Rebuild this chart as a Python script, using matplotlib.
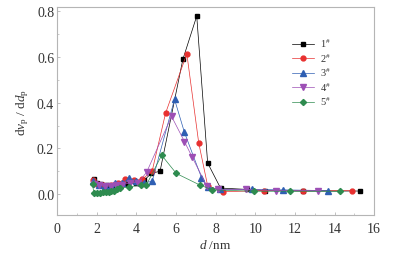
import matplotlib
matplotlib.use("Agg")
import matplotlib.pyplot as plt
from matplotlib.ticker import MultipleLocator

plt.rcParams['font.family'] = ['Liberation Serif', 'DejaVu Serif']
plt.rcParams['mathtext.fontset'] = 'custom'
plt.rcParams['mathtext.rm'] = 'Liberation Serif'
plt.rcParams['mathtext.it'] = 'Liberation Serif:italic'

# sample 1#
x1 = [1.85, 2.0, 2.2, 2.5, 2.8, 3.1, 3.55, 4.0, 4.4, 4.75, 5.2, 6.35, 7.05, 7.6, 8.25, 9.6, 10.5, 12.4, 15.3]
y1 = [0.065, 0.05, 0.045, 0.04, 0.035, 0.035, 0.044, 0.046, 0.06, 0.09, 0.10, 0.59, 0.78, 0.136, 0.026, 0.02, 0.015, 0.013, 0.013]
# sample 2#
x2 = [1.8, 2.0, 2.3, 2.7, 3.1, 3.45, 3.9, 4.3, 4.8, 5.48, 6.55, 7.15, 7.6, 8.4, 10.45, 12.4, 14.9]
y2 = [0.06, 0.045, 0.04, 0.04, 0.05, 0.066, 0.06, 0.065, 0.10, 0.355, 0.615, 0.224, 0.036, 0.01, 0.015, 0.015, 0.015]
# sample 3#
x3 = [1.8, 2.1, 2.4, 2.7, 2.95, 3.3, 3.65, 4.0, 4.4, 4.8, 5.93, 6.43, 7.29, 7.6, 8.2, 9.85, 11.4, 13.65]
y3 = [0.055, 0.04, 0.035, 0.035, 0.05, 0.05, 0.068, 0.058, 0.05, 0.055, 0.415, 0.27, 0.072, 0.03, 0.02, 0.02, 0.018, 0.015]
# sample 4#
x4 = [1.85, 2.1, 2.4, 2.7, 3.0, 3.3, 3.7, 4.1, 4.52, 5.78, 6.43, 6.83, 7.55, 8.1, 9.55, 11.05, 13.15]
y4 = [0.045, 0.04, 0.035, 0.035, 0.04, 0.04, 0.05, 0.05, 0.095, 0.34, 0.23, 0.16, 0.036, 0.02, 0.02, 0.015, 0.015]
# sample 5#
x5 = [1.8, 1.85, 2.0, 2.15, 2.3, 2.45, 2.6, 2.75, 2.9, 3.05, 3.2, 3.65, 4.25, 4.5, 5.28, 6.02, 7.19, 7.84, 9.95, 11.75, 14.3]
y5 = [0.045, 0.005, 0.005, 0.005, 0.007, 0.008, 0.01, 0.012, 0.015, 0.02, 0.025, 0.032, 0.038, 0.038, 0.17, 0.09, 0.04, 0.018, 0.012, 0.012, 0.012]

labels = [r'1$^{\#}$', r'2$^{\#}$', r'3$^{\#}$', r'4$^{\#}$', r'5$^{\#}$']
colors = ['#000000', '#e8302f', '#2f5fb3', '#9d4fb5', '#2e8b4f']
markers = ['s', 'o', '^', 'v', 'D']
sizes = [3.3, 3.5, 3.7, 3.7, 3.1]

fig = plt.figure(figsize=(4.03, 2.55), dpi=100)
ax = fig.add_axes([0.1414, 0.153, 0.787, 0.816])

series = [(x1, y1), (x2, y2), (x3, y3), (x4, y4), (x5, y5)]
for (xs, ys), lab, c, m, s in zip(series, labels, colors, markers, sizes):
    ax.plot(xs, ys, color=c, lw=0.5, marker=m, ms=s, mec=c, mfc=c, label=lab)

ax.set_xlim(0, 16)
ax.set_ylim(-0.092, 0.82)
ax.xaxis.set_major_locator(MultipleLocator(2))
ax.xaxis.set_minor_locator(MultipleLocator(1))
ax.yaxis.set_major_locator(MultipleLocator(0.2))
ax.yaxis.set_minor_locator(MultipleLocator(0.1))
ax.yaxis.set_major_formatter(matplotlib.ticker.FormatStrFormatter('%.1f'))

for sp in ax.spines.values():
    sp.set_color('#b5b5b5')
    sp.set_linewidth(0.8)
ax.tick_params(which='both', direction='in', color='#b5b5b5', labelsize=10, labelcolor='#333333')
ax.tick_params(which='major', length=2.5, width=0.6)
ax.tick_params(which='minor', length=1.5, width=0.5)
ax.tick_params(axis='x', pad=5)
ax.tick_params(axis='y', pad=2)

ax.set_xlabel(r'$\mathit{d}$ /nm', fontsize=9.5, color='#333333', labelpad=2)
ax.set_ylabel(r'd$v_{\rm p}$ / d$d_{\rm p}$', fontsize=9.5, color='#333333', labelpad=4)

leg = ax.legend(loc='upper left', bbox_to_anchor=(0.71, 0.9), frameon=False,
                fontsize=7.5, handlelength=2.2, labelspacing=0.2, handletextpad=0.5)
for t in leg.get_texts():
    t.set_color('#333333')

fig.savefig('out.png', dpi=100)
